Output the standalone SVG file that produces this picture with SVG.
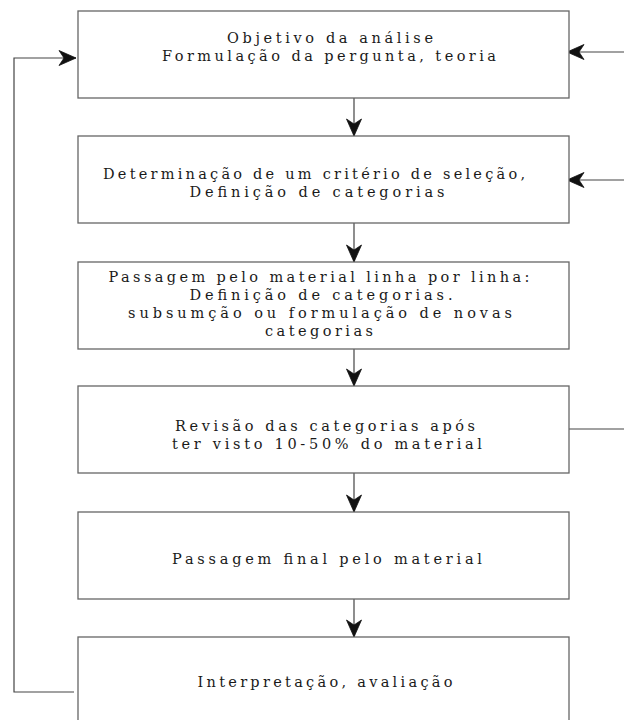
<svg xmlns="http://www.w3.org/2000/svg" width="624" height="720" viewBox="0 0 624 720">
<style>
.box{fill:#fff;stroke:#666;stroke-width:1.3}
.t{font-family:"DejaVu Serif","Liberation Serif",serif;font-size:14.5px;fill:#1a1a1a;text-anchor:middle}
.c{fill:none;stroke:#444;stroke-width:1.2}
</style>
<defs>
<marker id="ah" viewBox="-18 -9 19 18" refX="0" refY="0" markerWidth="19" markerHeight="18" markerUnits="userSpaceOnUse" orient="auto">
<path d="M0,0 L-17,-7.5 L-12,0 L-17,7.5 Z" fill="#111" stroke="#111" stroke-width="0.8" stroke-linejoin="round"/>
</marker>
</defs>
<rect width="624" height="720" fill="#fff"/>
<g id="connectors">
<line class="c" x1="354" y1="98" x2="354" y2="136" marker-end="url(#ah)"/>
<line class="c" x1="354" y1="223" x2="354" y2="262" marker-end="url(#ah)"/>
<line class="c" x1="354" y1="349" x2="354" y2="386" marker-end="url(#ah)"/>
<line class="c" x1="354" y1="473" x2="354" y2="512" marker-end="url(#ah)"/>
<line class="c" x1="354" y1="599" x2="354" y2="637" marker-end="url(#ah)"/>
<polyline class="c" points="74,692 14,692 14,58 76,58" marker-end="url(#ah)"/>
<line class="c" x1="624" y1="52" x2="567" y2="52" marker-end="url(#ah)"/>
<line class="c" x1="624" y1="180" x2="567" y2="180" marker-end="url(#ah)"/>
<line class="c" x1="566" y1="429" x2="624" y2="429"/>
</g>
<g id="n1">
<rect class="box" x="78" y="11" width="491" height="87"/>
<text class="t" x="330" y="43" textLength="206" lengthAdjust="spacing">Objetivo da análise</text>
<text class="t" x="329" y="61" textLength="334" lengthAdjust="spacing">Formulação da pergunta, teoria</text>
</g>
<g id="n2">
<rect class="box" x="78" y="136" width="491" height="87"/>
<text class="t" x="314" y="179" textLength="422" lengthAdjust="spacing">Determinação de um critério de seleção,</text>
<text class="t" x="317" y="197" textLength="255" lengthAdjust="spacing">Definição de categorias</text>
</g>
<g id="n3">
<rect class="box" x="78" y="262" width="491" height="87"/>
<text class="t" x="319" y="282" textLength="421" lengthAdjust="spacing">Passagem pelo material linha por linha:</text>
<text class="t" x="321" y="300" textLength="263" lengthAdjust="spacing">Definição de categorias.</text>
<text class="t" x="320" y="318" textLength="384" lengthAdjust="spacing">subsumção ou formulação de novas</text>
<text class="t" x="319" y="336" textLength="108" lengthAdjust="spacing">categorias</text>
</g>
<g id="n4">
<rect class="box" x="78" y="386" width="491" height="87"/>
<text class="t" x="325" y="431" textLength="300" lengthAdjust="spacing">Revisão das categorias após</text>
<text class="t" x="327" y="449" textLength="310" lengthAdjust="spacing">ter visto 10-50% do material</text>
</g>
<g id="n5">
<rect class="box" x="78" y="512" width="491" height="87"/>
<text class="t" x="327" y="564" textLength="310" lengthAdjust="spacing">Passagem final pelo material</text>
</g>
<g id="n6">
<rect class="box" x="78" y="637" width="491" height="87"/>
<text class="t" x="325" y="687" textLength="255" lengthAdjust="spacing">Interpretação, avaliação</text>
</g>
</svg>
